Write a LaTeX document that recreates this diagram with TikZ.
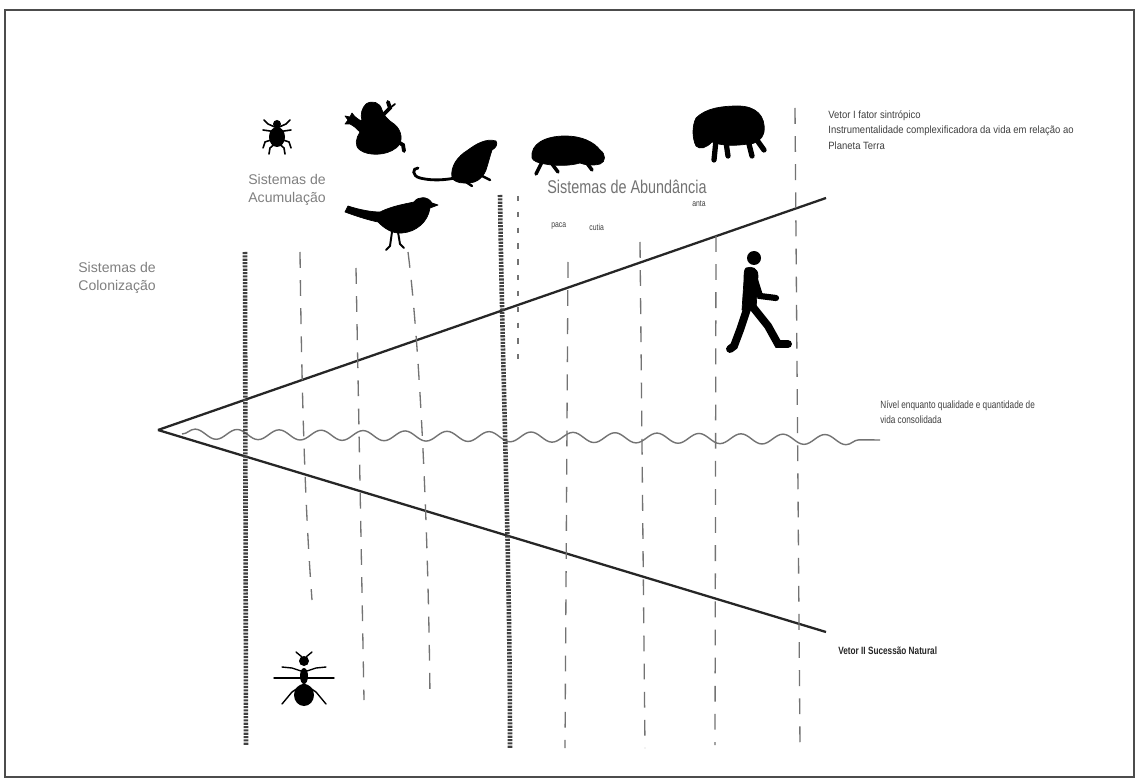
\documentclass[tikz,border=0pt]{standalone}
\usepackage{fontspec}
\setmainfont{Liberation Sans}
\newfontfamily\condfont[FakeStretch=0.78]{Liberation Sans}
\newfontfamily\narrowfont[FakeStretch=0.9]{Liberation Sans}
\usetikzlibrary{decorations.pathmorphing}
\begin{document}
\begin{tikzpicture}[x=0.02cm,y=-0.02cm,
  frameline/.style={draw=black!70,line width=1.6pt},
  vector/.style={draw=black!85,line width=1.3pt},
  stipple/.style={draw=black!75,line width=2.6pt,dash pattern=on 1.2pt off 0.7pt},
  guide/.style={draw=black!55,line width=0.75pt,dash pattern=on 9pt off 7pt},
  finedash/.style={draw=black!55,line width=0.7pt,dash pattern=on 3pt off 6pt},
  wave/.style={draw=black!55,line width=0.8pt,decorate,
    decoration={snake,segment length=0.84cm,amplitude=0.1cm}},
  syslabel/.style={text=black!50,font=\fontsize{8}{10}\selectfont,align=left,inner sep=0pt,anchor=north west},
  note/.style={text=black!75,font=\narrowfont\fontsize{6}{9}\selectfont,align=left,inner sep=0pt,anchor=north west},
  small/.style={text=black!75,font=\condfont\fontsize{5}{6}\selectfont,inner sep=0pt,anchor=north west},
  animal/.style={fill=black,draw=black,line join=round},
  limb/.style={draw=black,line width=1.4pt,line cap=round}]
\useasboundingbox (0,0) rectangle (1138,780);
\fill[white] (0,0) rectangle (1138,780);
\draw[frameline] (5,10) rectangle (1134,777);

% cone of the two vectors
\coordinate (apex) at (158,430);
\coordinate (v1end) at (826,198);
\coordinate (v2end) at (826,632);
\draw[vector] (apex) -- (v1end);
\draw[vector] (apex) -- (v2end);

% level of life, wavy line
\coordinate (wstart) at (182,434);
\coordinate (wend) at (880,440);
\draw[wave] (wstart) -- (wend);

% stippled system borders
\coordinate (b1top) at (245,252);
\coordinate (b1bot) at (246,745);
\draw[stipple] (b1top) -- (b1bot);
\coordinate (b2top) at (500,195);
\coordinate (b2bot) at (510,748);
\draw[stipple] (b2top) .. controls (503,400) and (510,560) .. (b2bot);
\coordinate (b2ftop) at (518,196);
\coordinate (b2fbot) at (518,365);
\draw[finedash] (b2ftop) -- (b2fbot);

% thin guide lines
\coordinate (g1t) at (300,252); \coordinate (g1b) at (312,600);
\draw[guide] (g1t) .. controls (302,420) and (306,520) .. (g1b);
\coordinate (g2t) at (356,268); \coordinate (g2b) at (364,700);
\draw[guide] (g2t) -- (g2b);
\coordinate (g3t) at (408,252); \coordinate (g3b) at (430,698);
\draw[guide] (g3t) .. controls (418,330) and (428,500) .. (g3b);
\coordinate (g4t) at (568,262); \coordinate (g4b) at (565,748);
\draw[guide] (g4t) -- (g4b);
\coordinate (g5t) at (640,242); \coordinate (g5b) at (645,748);
\draw[guide] (g5t) -- (g5b);
\coordinate (g6t) at (716,236); \coordinate (g6b) at (715,745);
\draw[guide] (g6t) -- (g6b);
\coordinate (g7t) at (795,108); \coordinate (g7b) at (800,748);
\draw[guide] (g7t) -- (g7b);

% labels
\node[syslabel] (colon) at (78,262) {Sistemas de\\Colonização};
\node[syslabel] (acum) at (248,174) {Sistemas de\\Acumulação};
\node[text=black!55,font=\condfont\fontsize{10.5}{12}\selectfont,inner sep=0pt,anchor=north west] (abund) at (547,180) {Sistemas de Abundância};
\node[small] (paca) at (551,222) {paca};
\node[small] (cutia) at (589,224) {cutia};
\node[small] (anta) at (692,200) {anta};
\node[note] (vetor1) at (828,110) {Vetor I fator sintrópico\\Instrumentalidade complexificadora da vida em relação ao\\Planeta Terra};
\node[note,font=\condfont\fontsize{6}{9}\selectfont] (nivel) at (880,400) {Nível enquanto qualidade e quantidade de\\vida consolidada};
\node[note,text=black!85,font=\condfont\bfseries\fontsize{6}{9}\selectfont] (vetor2) at (838,647) {Vetor II Sucessão Natural};

% tick
\fill (277,137) ellipse [x radius=8,y radius=10];
\fill (277,124) circle [radius=4];
\foreach \s in {1,-1}{
  \draw[limb,line width=0.9pt] (277,128) -- ++(\s*9,-4) -- ++(\s*4,-4);
  \draw[limb,line width=0.9pt] (277,132) -- ++(\s*14,-2);
  \draw[limb,line width=0.9pt] (277,138) -- ++(\s*12,4) -- ++(\s*2,6);
  \draw[limb,line width=0.9pt] (277,142) -- ++(\s*7,6) -- ++(\s*1,6);
}

% frog
\fill[animal] (366,104) .. controls (372,100) and (380,102) .. (382,110)
  .. controls (384,116) and (388,120) .. (394,124)
  .. controls (402,130) and (404,142) .. (396,148)
  .. controls (386,156) and (368,156) .. (360,150)
  .. controls (354,146) and (356,138) .. (360,132)
  .. controls (356,128) and (354,126) .. (350,124)
  -- (345,124) -- (348,120) -- (345,116) -- (350,117) -- (352,113)
  .. controls (354,116) and (358,120) .. (362,121)
  .. controls (360,114) and (362,108) .. (366,104) -- cycle;
\draw[limb,line width=2.2pt] (384,114) -- (390,108) -- (388,102);
\draw[limb,line width=1pt] (390,108) -- (395,104);
\draw[limb,line width=2.2pt] (395,140) -- (403,145) -- (404,151);

% rat
\fill[animal] (452,178) .. controls (450,166) and (458,156) .. (468,150)
  .. controls (476,144) and (486,138) .. (496,141)
  .. controls (498,144) and (496,148) .. (492,150)
  .. controls (490,156) and (488,164) .. (486,170)
  .. controls (482,180) and (474,184) .. (464,183)
  .. controls (458,183) and (454,181) .. (452,178) -- cycle;
\draw[limb,line width=1.6pt] (455,178) .. controls (440,181) and (428,180) .. (420,178)
  .. controls (412,176) and (412,168) .. (418,168);
\draw[limb] (466,182) -- (472,186);
\draw[limb] (482,176) -- (490,180);

% bird
\fill[animal] (345,212) -- (348,206) .. controls (360,210) and (372,212) .. (380,212)
  .. controls (392,206) and (405,204) .. (414,202)
  .. controls (418,196) and (428,196) .. (432,203)
  -- (438,205) -- (430,208)
  .. controls (428,222) and (416,232) .. (402,233)
  .. controls (392,234) and (384,228) .. (378,222)
  .. controls (368,220) and (356,216) .. (345,212) -- cycle;
\draw[limb,line width=1.1pt] (392,232) -- (390,246) -- (386,250);
\draw[limb,line width=1.1pt] (398,232) -- (400,244) -- (404,248);

% paca
\fill[animal] (532,158) .. controls (530,144) and (545,136) .. (565,136)
  .. controls (582,136) and (594,142) .. (600,150)
  .. controls (606,154) and (606,162) .. (600,164)
  .. controls (592,166) and (585,165) .. (580,163)
  .. controls (570,166) and (555,166) .. (545,164)
  .. controls (538,163) and (533,161) .. (532,158) -- cycle;
\draw[limb,line width=2pt] (542,162) -- (536,174);
\draw[limb,line width=2pt] (552,164) -- (558,172);
\draw[limb,line width=2pt] (586,162) -- (592,170);

% tapir
\fill[animal] (696,118) .. controls (706,108) and (722,106) .. (738,106)
  .. controls (756,106) and (766,116) .. (764,132)
  .. controls (762,140) and (756,144) .. (748,144)
  .. controls (735,146) and (722,146) .. (712,142)
  .. controls (706,148) and (700,150) .. (696,146)
  .. controls (692,138) and (692,126) .. (696,118) -- cycle;
\draw[limb,line width=3pt] (716,140) -- (714,160);
\draw[limb,line width=3pt] (726,142) -- (728,156);
\draw[limb,line width=3pt] (748,140) -- (752,156);
\draw[limb,line width=3pt] (754,136) -- (764,150);

% walking human
\fill (754,258) circle [radius=7];
\fill[animal] (746,268) .. controls (752,266) and (758,268) .. (758,276)
  -- (756,310) -- (742,310) -- (744,280) .. controls (744,274) and (744,270) .. (746,268) -- cycle;
\draw[limb,line width=3.5pt] (755,280) -- (760,296) -- (776,298);
\draw[limb,line width=4.5pt] (748,306) -- (740,330) -- (734,346) -- (730,349);
\draw[limb,line width=4.5pt] (752,306) -- (768,326) -- (778,344) -- (788,344);

% ant
\fill (304,661) circle [radius=5];
\fill (304,676) ellipse [x radius=4,y radius=8];
\fill (304,695) ellipse [x radius=10,y radius=11];
\foreach \s in {1,-1}{
  \draw[limb,line width=0.8pt] (304,672) -- ++(\s*12,-4) -- ++(\s*10,-1);
  \draw[limb,line width=0.8pt] (304,678) -- ++(\s*30,0);
  \draw[limb,line width=0.8pt] (304,684) -- ++(\s*12,8) -- ++(\s*10,12);
  \draw[limb,line width=0.8pt] (304+\s*2,657) -- ++(\s*6,-5);
}
\end{tikzpicture}
\end{document}
